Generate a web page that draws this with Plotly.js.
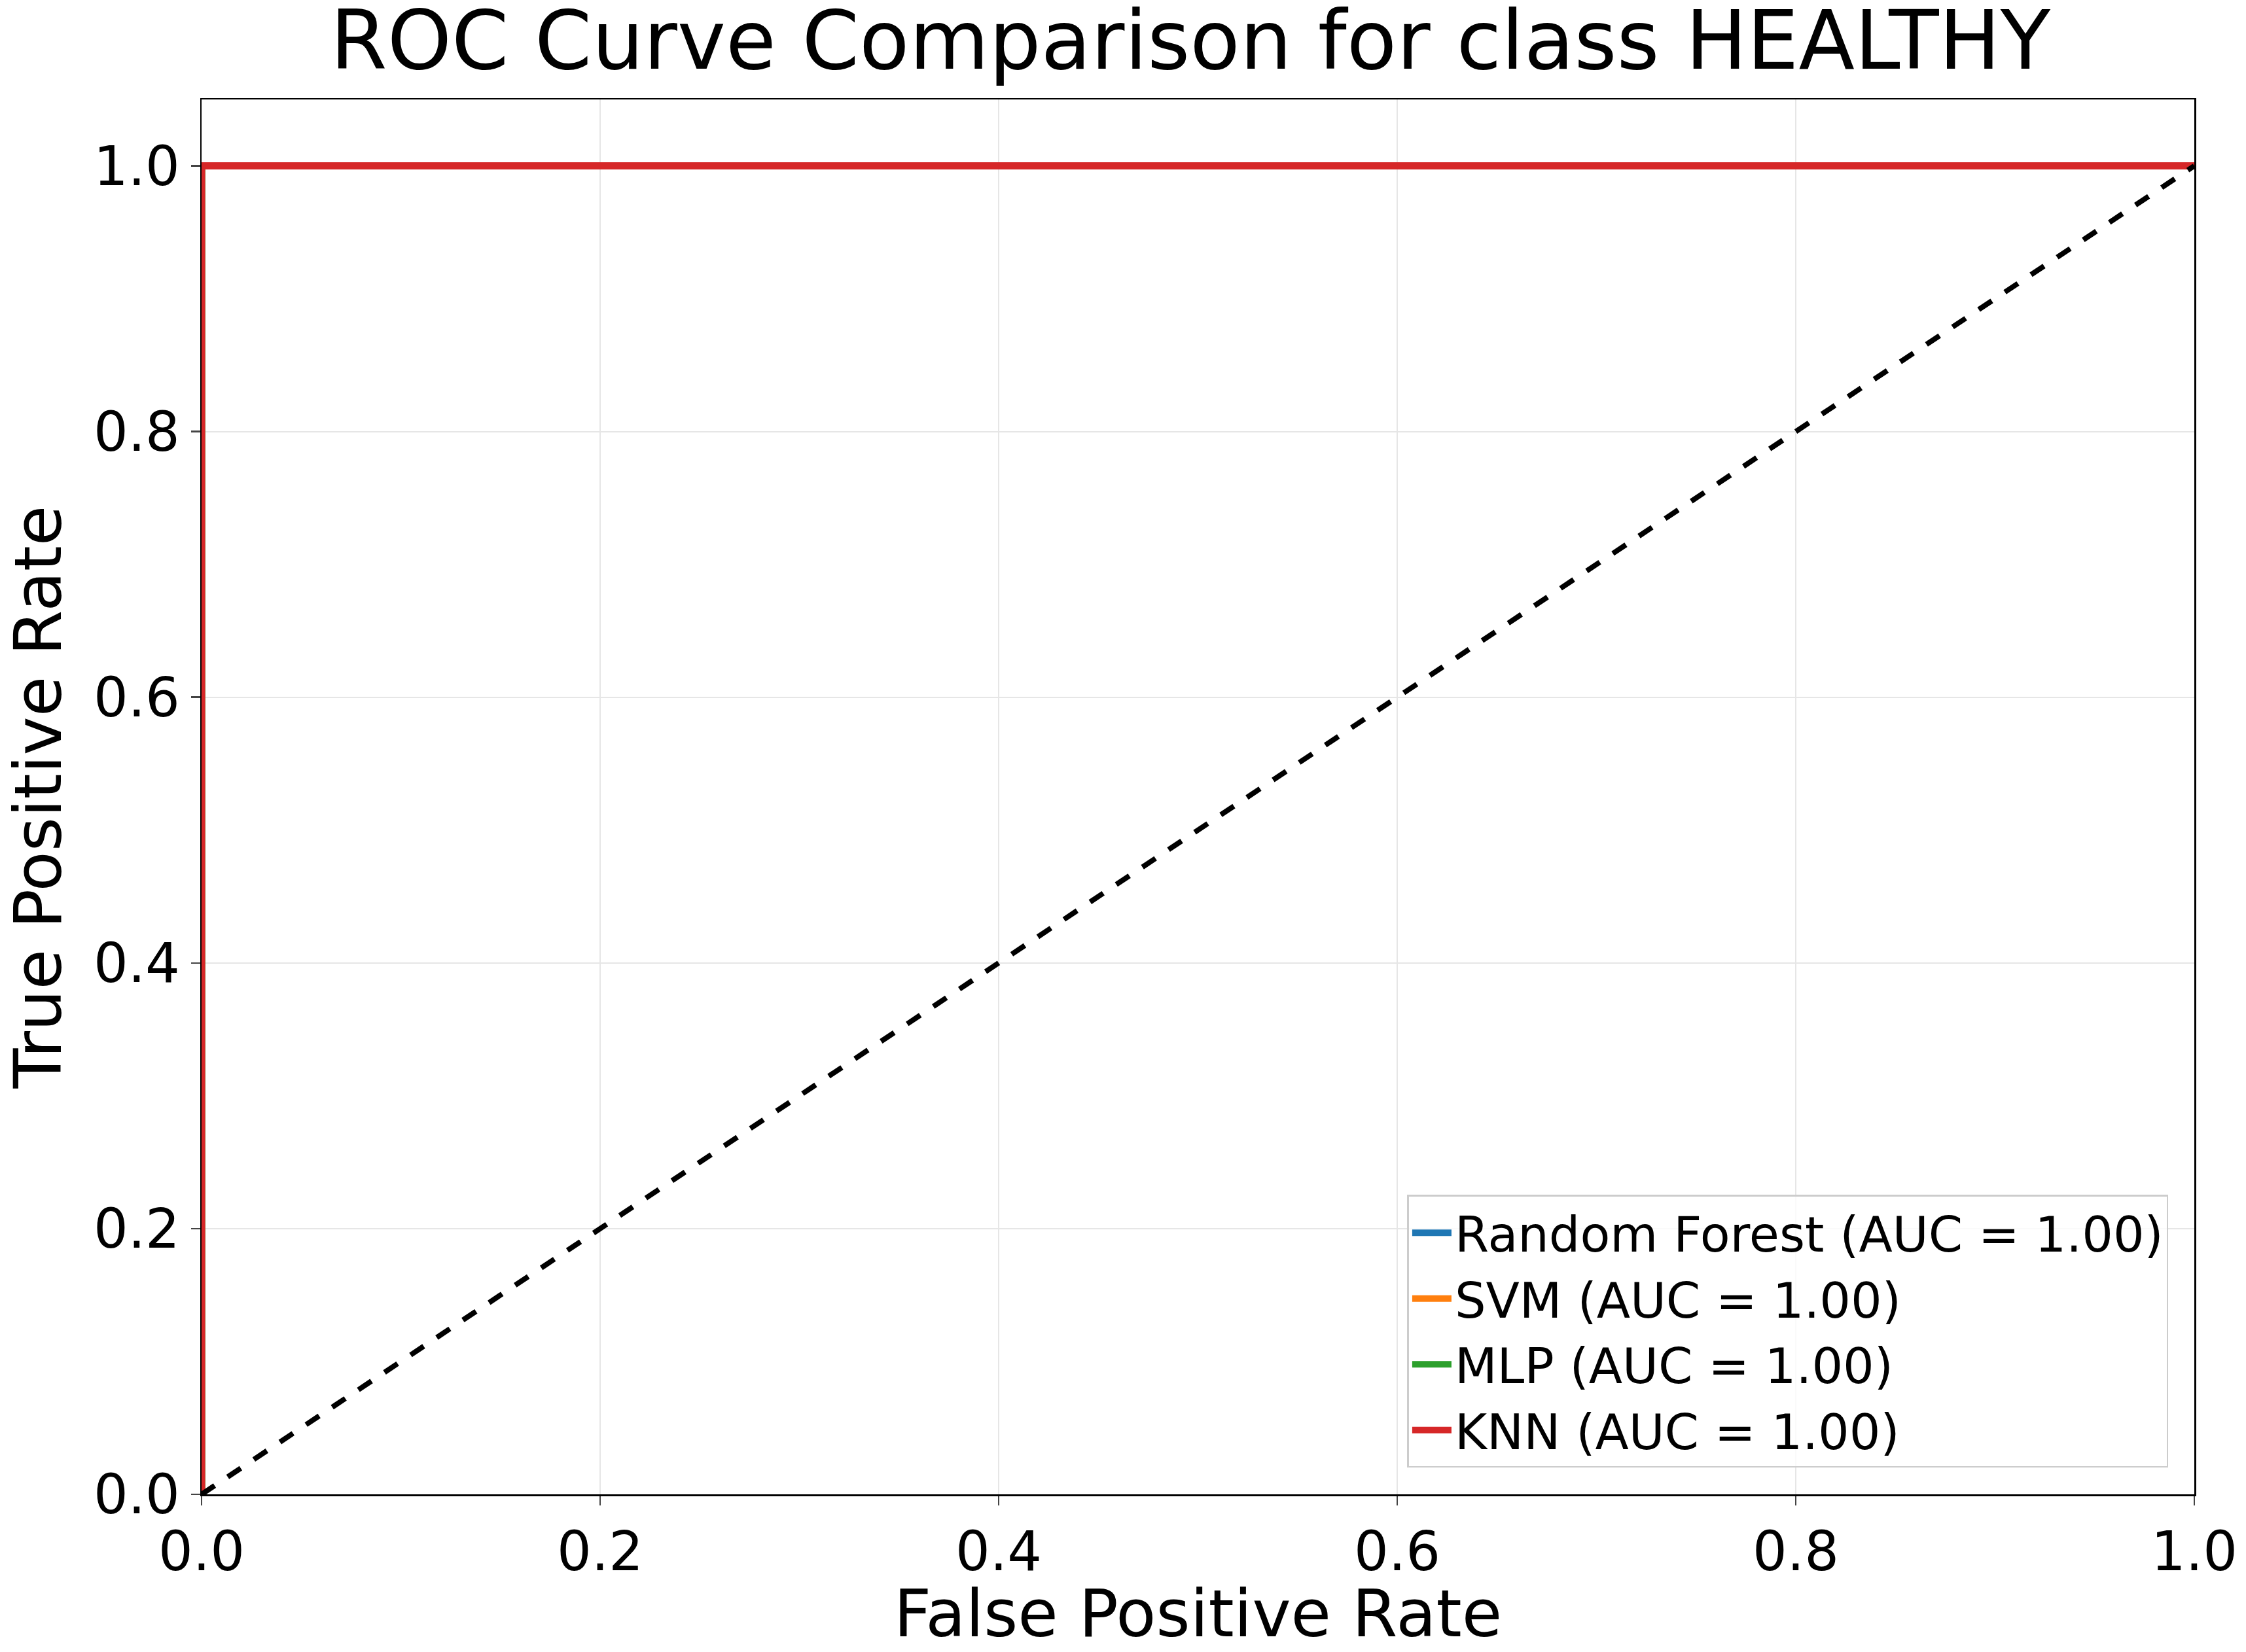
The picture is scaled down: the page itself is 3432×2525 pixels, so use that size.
<!DOCTYPE html>
<html><head><meta charset="utf-8">
<script src="https://cdn.plot.ly/plotly-3.0.1.min.js"></script>
<style>body{margin:0}</style></head>
<body><div id="c" style="width:3432px;height:2525px"></div>
<script>
const models = ["Random Forest", "SVM", "MLP", "KNN"];
const aucs = ["1.00", "1.00", "1.00", "1.00"];
const colors = ["#1f77b4", "#ff7f0e", "#2ca02c", "#d62728"];
const fpr = [[0,0,1],[0,0,1],[0,0,1],[0,0,1]];
const tpr = [[0,1,1],[0,1,1],[0,1,1],[0,1,1]];
const diagX = [0,1], diagY = [0,1];
const ticks = [0,0.2,0.4,0.6,0.8,1.0];
const tickText = ["0.0","0.2","0.4","0.6","0.8","1.0"];

const traces = models.map((m,i)=>({x:fpr[i],y:tpr[i],mode:"lines",name:`${m} (AUC = ${aucs[i]})`,line:{color:colors[i],width:11},cliponaxis:false}));
traces.push({x:diagX,y:diagY,mode:"lines",showlegend:false,line:{color:"black",width:8,dash:"dash"}});

const ax = {showline:true,mirror:true,linecolor:"black",linewidth:2.5,ticks:"outside",ticklen:14,tickwidth:2.5,
  showgrid:true,gridcolor:"#e6e6e6",gridwidth:2,zeroline:false,tickvals:ticks,ticktext:tickText,
  tickfont:{size:83,color:"black"}};
Plotly.newPlot("c",traces,{
  width:3432,height:2525,paper_bgcolor:"white",plot_bgcolor:"white",
  font:{family:"DejaVu Sans",color:"black"},
  margin:{l:308,r:79,t:152,b:241},
  title:{text:"ROC Curve Comparison for class HEALTHY",font:{size:125},x:0.53,xanchor:"center",y:0.993,yanchor:"top"},
  xaxis:Object.assign({},ax,{range:[0,1],title:{text:"False Positive Rate",font:{size:100},standoff:15}}),
  yaxis:Object.assign({},ax,{range:[0,1.05],title:{text:"True Positive Rate",font:{size:100},standoff:25}}),
  legend:{x:0.987,y:0.019,xanchor:"right",yanchor:"bottom",bordercolor:"#cccccc",borderwidth:2.5,bgcolor:"rgba(255,255,255,0.8)",
    font:{size:75},tracegroupgap:10,itemwidth:60}
},{staticPlot:true});
</script></body></html>
